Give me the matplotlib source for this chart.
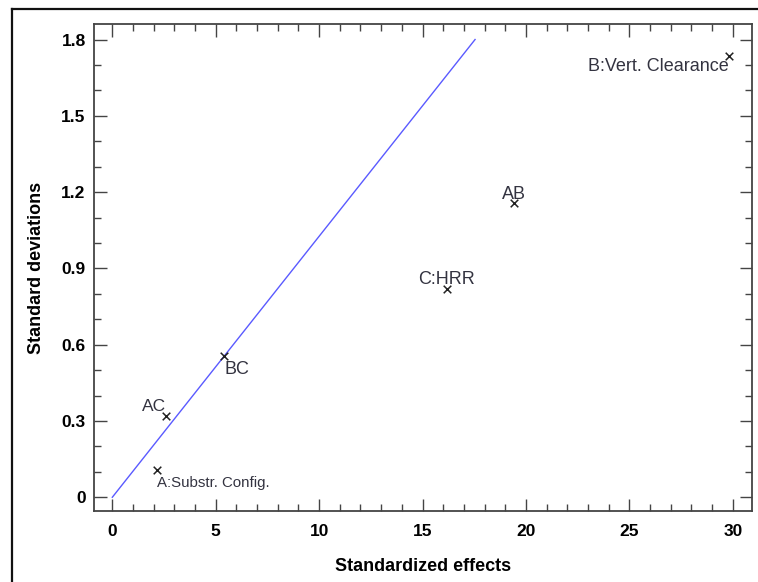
import matplotlib.pyplot as plt
from matplotlib.lines import Line2D
from matplotlib.ticker import MultipleLocator

plt.rcParams["font.family"] = ["Liberation Sans", "DejaVu Sans"]

# effects: standardized effect vs half-normal standard deviation
names = ["A:Substr. Config.", "AC", "BC", "C:HRR", "AB", "B:Vert. Clearance"]
effects = [2.15, 2.60, 5.40, 16.17, 19.44, 29.82]
sdevs = [0.107, 0.321, 0.556, 0.819, 1.156, 1.735]

# reference line through the origin
line_x = [0, 17.54]
line_y = [0, 1.80]

fig = plt.figure(figsize=(7.58, 5.82), dpi=100)
ax = fig.add_axes([94 / 758, 71 / 582, 658 / 758, 487 / 582])

ax.plot(line_x, line_y, color="#5a5aff", lw=1.0)
ax.scatter(effects, sdevs, marker="x", color="#222222", s=30, linewidths=1.1, zorder=3)

# label placement per point (offset in points, alignment, size)
label_opts = {
    "A:Substr. Config.": ((0, -9), "left", 10.8),
    "AC": ((0, 6.5), "right", 12.5),
    "BC": ((0.7, -9.5), "left", 13),
    "C:HRR": ((0, 6.5), "center", 13),
    "AB": ((0, 6.5), "center", 13),
    "B:Vert. Clearance": ((0, -7.5), "right", 13),
}
for n, x, y in zip(names, effects, sdevs):
    off, ha, fs = label_opts[n]
    ax.annotate(n, (x, y), xytext=off, textcoords="offset points", ha=ha,
                va="center", fontsize=fs, color="#333340")

ax.set_xlim(-0.885, 30.93)
ax.set_ylim(-0.054, 1.861)
ax.xaxis.set_major_locator(MultipleLocator(5))
ax.xaxis.set_minor_locator(MultipleLocator(1))
ax.yaxis.set_minor_locator(MultipleLocator(0.1))
ax.set_yticks([0, 0.3, 0.6, 0.9, 1.2, 1.5, 1.8])
ax.set_yticklabels(["0", "0.3", "0.6", "0.9", "1.2", "1.5", "1.8"])

ax.tick_params(which="both", direction="in", top=True, right=True, color="#444444", width=1.0)
ax.tick_params(which="major", length=9, labelsize=12.5)
ax.tick_params(axis="x", which="major", pad=9)
ax.tick_params(axis="y", which="major", pad=6)
ax.tick_params(which="minor", length=5)
for lab in ax.get_xticklabels() + ax.get_yticklabels():
    lab.set_fontweight("bold")
for sp in ax.spines.values():
    sp.set_color("#444444")
    sp.set_linewidth(1.3)

ax.set_xlabel("Standardized effects", fontsize=13, fontweight="bold", labelpad=14)
ax.set_ylabel("Standard deviations", fontsize=13, fontweight="bold", labelpad=12)

# outer frame (only left and top visible)
fig.add_artist(Line2D([12 / 758, 12 / 758], [0, 1 - 9 / 582], transform=fig.transFigure, color="#111111", lw=1.6))
fig.add_artist(Line2D([12 / 758, 1], [1 - 9 / 582, 1 - 9 / 582], transform=fig.transFigure, color="#111111", lw=1.6))

fig.savefig("out.png", dpi=100)
